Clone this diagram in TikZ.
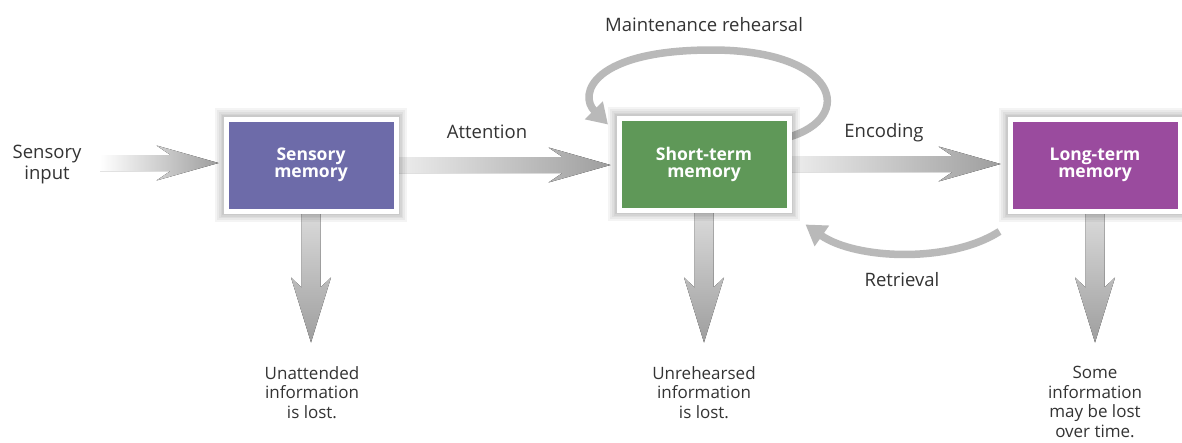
\documentclass[tikz,border=0pt]{standalone}
\usepackage{fontspec}
\setmainfont{Open Sans}
\usetikzlibrary{arrows.meta,calc}
\definecolor{sensc}{HTML}{6D6BA9}
\definecolor{stmc}{HTML}{5F9858}
\definecolor{ltmc}{HTML}{9A4B9E}
\definecolor{txt}{HTML}{333333}
\definecolor{arrg}{HTML}{9E9E9E}
\definecolor{arrl}{HTML}{DADADA}
\definecolor{loopg}{HTML}{B9B9B9}
\pgfdeclarelayer{bg}
\pgfsetlayers{bg,main}
\tikzset{
  softshadow/.style={preaction={draw=black, draw opacity=#1, fill=none, line width=22pt},
    preaction={draw=black, draw opacity=#1, fill=none, line width=18pt},
    preaction={draw=black, draw opacity=#1, fill=none, line width=14pt},
    preaction={draw=black, draw opacity=#1, fill=none, line width=11pt},
    preaction={draw=black, draw opacity=#1, fill=none, line width=8pt}},
  memboxstyle/.style={softshadow=0.045, draw=white, line width=5pt, minimum width=170pt, minimum height=92pt,
    text=white, font=\fontsize{17.5}{17}\selectfont\bfseries, align=center},
  lbl/.style={text=txt, font=\fontsize{18.5}{21}\selectfont, align=center, inner sep=0pt},
  botlbl/.style={text=txt, font=\fontsize{17}{19.5}\selectfont, align=center, inner sep=0pt, anchor=north},
  curvearrow/.style={draw=loopg, line width=7.5pt, -{Triangle[width=24pt,length=20pt]}},
  harrowfill/.style={left color=arrl!50, right color=arrg},
  inarrowfill/.style={left color=white, right color=arrg},
  varrowfill/.style={top color=arrl, bottom color=arrg},
}
\newcommand{\myharrow}[3]{%
  \coordinate (hs) at (#2 |- #3);
  \fill[#1] ([yshift=8pt]hs) -- ([xshift=-48pt,yshift=8pt]#3) -- ([xshift=-62pt,yshift=17.5pt]#3) -- (#3)
    -- ([xshift=-62pt,yshift=-17.5pt]#3) -- ([xshift=-48pt,yshift=-8pt]#3) -- ([yshift=-8pt]hs) -- cycle;}
\newcommand{\myvarrow}[3]{%
  \fill[#1] ([xshift=-9.5pt]#2) -- ([xshift=-9.5pt,yshift=55pt]#3) -- ([xshift=-20pt,yshift=65pt]#3) -- (#3)
    -- ([xshift=20pt,yshift=65pt]#3) -- ([xshift=9.5pt,yshift=55pt]#3) -- ([xshift=9.5pt]#2) -- cycle;}
\begin{document}
\begin{tikzpicture}[x=1pt,y=-1pt]
\useasboundingbox (0,0) rectangle (1182,442);
\begin{pgfonlayer}{bg}
\fill[white] (0,0) rectangle (1182,442);
\end{pgfonlayer}

% boxes
\node[memboxstyle, fill=sensc] (sm) at (311,165) {Sensory\\memory};
\node[memboxstyle, fill=stmc] (stm) at (704,164) {Short-term\\memory};
\node[memboxstyle, fill=ltmc] (ltm) at (1095,165) {Long-term\\memory};

% labels
\node[lbl] (inp) at (47,165) {Sensory\\input};
\node[lbl] (att) at (487,132) {Attention};
\node[lbl] (mr) at (704,25) {Maintenance rehearsal};
\node[lbl] (enc) at (884,133) {Encoding};
\node[lbl] (ret) at (902,280) {Retrieval};
\node[botlbl] (l1) at (312,366) {Unattended\\information\\is lost.};
\node[botlbl] (l2) at (704,366) {Unrehearsed\\information\\is lost.};
\node[botlbl] (l3) at (1095,366) {Some\\information\\may be lost\\over time.};

% coordinates for arrows
\coordinate (inS) at (100,163);
\coordinate (t1) at ([xshift=-5pt,yshift=2pt]sm.west);
\coordinate (t2) at ([xshift=-6pt,yshift=-1pt]stm.west);
\coordinate (t3) at ([xshift=-7pt,yshift=1pt]ltm.west);
\coordinate (d1) at ($(sm.south)+(0,129)$);
\coordinate (d2) at ($(stm.south)+(0,130)$);
\coordinate (d3) at ($(ltm.south)+(0,129)$);
\coordinate (lpS) at ([xshift=-4pt,yshift=-22pt]stm.north east);
\coordinate (lpT) at ([xshift=-96pt,yshift=-9pt]stm.north);
\coordinate (rtS) at ([xshift=-8pt,yshift=-18pt]ltm.south west);
\coordinate (rtT) at ([xshift=14pt,yshift=-12pt]stm.south east);

\begin{pgfonlayer}{bg}
\myharrow{inarrowfill}{inS}{t1}
\myharrow{harrowfill}{sm.east}{t2}
\myharrow{harrowfill}{stm.east}{t3}
\myvarrow{varrowfill}{sm.south}{d1}
\myvarrow{varrowfill}{stm.south}{d2}
\myvarrow{varrowfill}{ltm.south}{d3}
\draw[curvearrow] (lpS) .. controls +(70,-20) and +(125,0) .. (712,50) .. controls +(-120,0) and +(-30,-30) .. (lpT);
\draw[curvearrow] (rtS) .. controls +(-50,32) and +(50,35) .. (rtT);
\end{pgfonlayer}
\end{tikzpicture}
\end{document}
